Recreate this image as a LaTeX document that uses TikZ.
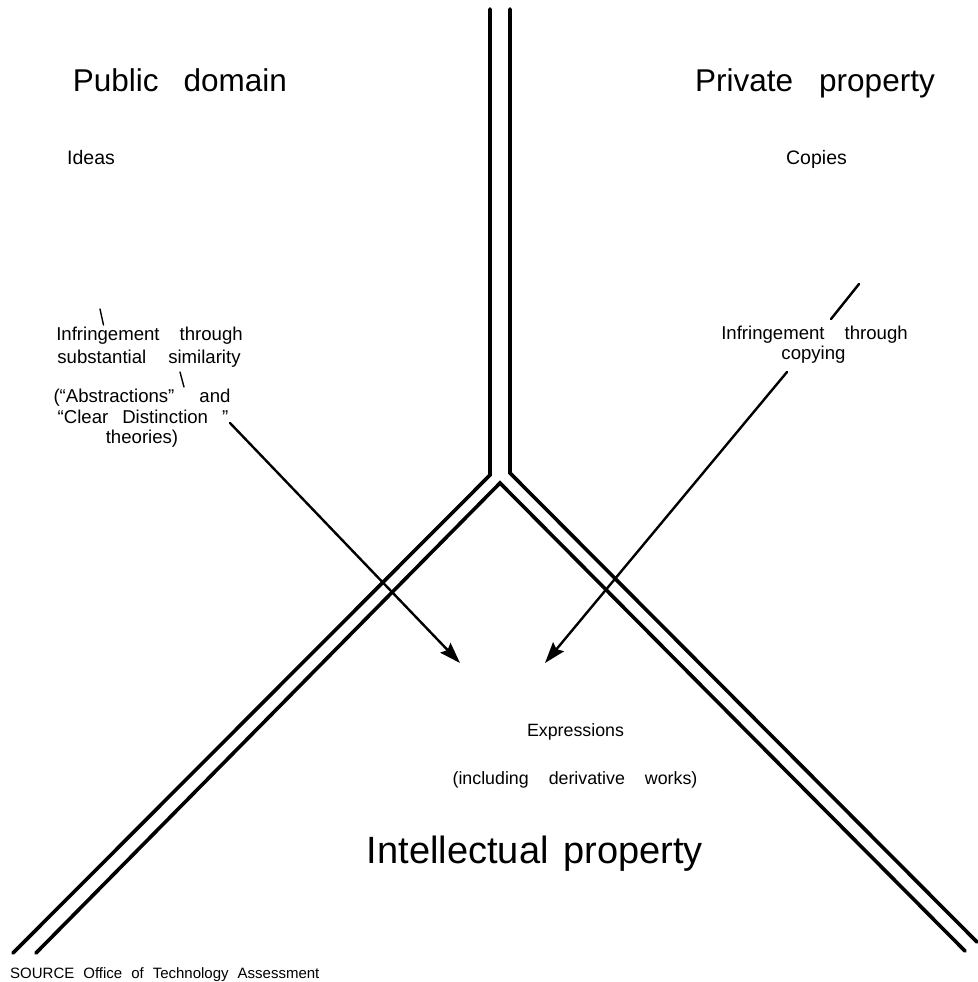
\documentclass[tikz,border=0pt]{standalone}
\usepackage{fontspec}
\setmainfont{Liberation Sans}
\usetikzlibrary{arrows.meta}
\tikzset{
  rail/.style      ={line width=3.6pt, line cap=round, line join=miter},
  leader/.style    ={line width=2.4pt, line cap=round},
  tick/.style      ={line width=1.4pt, line cap=round},
  infarrow/.style  ={leader, -{Stealth[length=21pt, width=14pt, inset=3pt]}},
  wordgap/.style   ={execute at begin node={\spaceskip=#1pt\relax}},
  txt/.style       ={anchor=base, inner sep=0pt},
  realmtext/.style ={txt, font=\fontsize{31.5}{36}\selectfont},
  itemtext/.style  ={txt, font=\fontsize{19.5}{23}\selectfont},
  notetext/.style  ={txt, font=\fontsize{18.6}{22}\selectfont},
  exprtext/.style  ={txt, font=\fontsize{17.8}{21}\selectfont},
  titletext/.style ={txt, font=\fontsize{38}{43}\selectfont},
  sourcetext/.style={txt, anchor=base west, font=\fontsize{15}{18}\selectfont},
}

\begin{document}
\begin{tikzpicture}[x=1pt, y=-1pt]
  \useasboundingbox (0,0) rectangle (977,982);

  % ---- the double rails ---------------------------------------------------
  \draw[rail] (490,9) -- (490,475) -- (13,953);
  \draw[rail] (510,9) -- (510,473) -- (977,942);
  \draw[rail] (36,953) -- (500,483) -- (965,951);

  % ---- the two realms -----------------------------------------------------
  \node[realmtext, wordgap=25] (public) at (180,92) {Public domain};
  \node[realmtext, wordgap=26] (private) at (815,91) {Private property};

  % ---- left side: ideas ---------------------------------------------------
  \node[itemtext] (ideas) at (91,164) {Ideas};
  \coordinate (tickA1) at (100,309);
  \coordinate (tickA2) at (103.5,325);
  \draw[tick] (tickA1) -- (tickA2);
  \node[notetext, wordgap=20] (infsim) at (149.5,340) {Infringement through};
  \node[notetext, wordgap=22] (subst) at (149,363) {substantial similarity};
  \coordinate (tickB1) at (180,372);
  \coordinate (tickB2) at (184,387);
  \draw[tick] (tickB1) -- (tickB2);
  \node[notetext, wordgap=25] (abstr) at (142,402) {(“Abstractions” and};
  \node[notetext, wordgap=14] (clear) at (143,423) {“Clear Distinction ”};
  \node[notetext] (theories) at (142,443) {theories)};

  % ---- right side: copies -------------------------------------------------
  \node[itemtext] (copies) at (816.5,164) {Copies};
  \coordinate (lead1) at (859,284);
  \coordinate (lead2) at (831,319);
  \draw[leader] (lead1) -- (lead2);
  \node[notetext, wordgap=20] (infcopy) at (814.5,339) {Infringement through};
  \node[notetext] (copying) at (813.5,359) {copying};

  % ---- expressions --------------------------------------------------------
  \node[exprtext] (expr) at (575.5,736) {Expressions};
  \node[exprtext, wordgap=20] (deriv) at (575,784) {(including derivative works)};
  \node[titletext, wordgap=15] (ip) at (535,863) {Intellectual property};

  % the two routes of infringement
  \coordinate (fromL) at (230,423);
  \coordinate (toL) at (460,663);
  \coordinate (fromR) at (787,372);
  \coordinate (toR) at (545,663);
  \draw[infarrow] (fromL) -- (toL);
  \draw[infarrow] (fromR) -- (toR);

  % ---- source -------------------------------------------------------------
  \node[sourcetext, wordgap=9] (source) at (10,978)
    {SOURCE Office of Technology Assessment};
\end{tikzpicture}
\end{document}
